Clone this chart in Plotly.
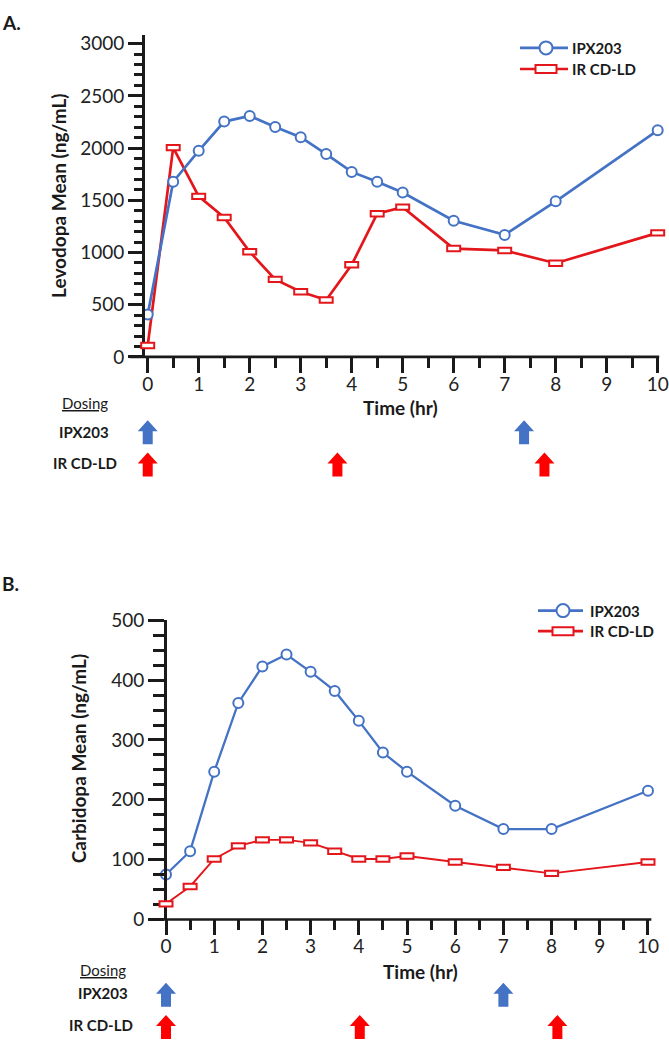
import plotly.graph_objects as go

W, H = 669, 1050

# ---------------- data ----------------
time_hr = [0, 0.5, 1, 1.5, 2, 2.5, 3, 3.5, 4, 4.5, 5, 6, 7, 8, 10]
levodopa_ipx203 = [406, 1678, 1974, 2254, 2308, 2202, 2105, 1943, 1772, 1678, 1575, 1304, 1169, 1491, 2170]
levodopa_ir = [110, 2005, 1538, 1335, 1007, 743, 624, 546, 883, 1372, 1435, 1038, 1020, 898, 1188]
carbidopa_ipx203 = [75, 114, 247, 362, 423, 443, 414, 382, 332, 279, 247, 190, 151, 151, 215]
carbidopa_ir = [26, 55, 101, 123, 133, 133, 128, 114, 101, 101, 106, 96, 87, 77, 96]

dose_a_ipx203 = [0, 7.38]
dose_a_ir = [0, 3.72, 7.78]
dose_b_ipx203 = [0, 7.0]
dose_b_ir = [0, 4.02, 8.12]

series_names = ["IPX203", "IR CD-LD"]

BLUE = "#4472C4"
RED = "#E3161B"
ARROW_RED = "#FF0000"
INK = "#1a1a1a"
FONT = "Lato"


def px(x):
    return x / W


def py(y):
    return 1 - y / H


fig = go.Figure()

# ---------------- traces ----------------
panels = [
    dict(xa="x", ya="y", ipx=levodopa_ipx203, ir=levodopa_ir, lw_b=2.7, lw_r=2.7),
    dict(xa="x2", ya="y2", ipx=carbidopa_ipx203, ir=carbidopa_ir, lw_b=2.3, lw_r=1.9),
]
for p in panels:
    fig.add_trace(go.Scatter(
        x=time_hr, y=p["ir"], mode="lines", name=series_names[1],
        line=dict(color=RED, width=p["lw_r"]), xaxis=p["xa"], yaxis=p["ya"],
        cliponaxis=False, showlegend=False))
    fig.add_trace(go.Scatter(
        x=time_hr, y=p["ipx"], mode="lines+markers", name=series_names[0],
        line=dict(color=BLUE, width=p["lw_b"]),
        marker=dict(symbol="circle", size=10, color="white", line=dict(color=BLUE, width=2)),
        xaxis=p["xa"], yaxis=p["ya"], cliponaxis=False, showlegend=False))

shapes = []
# red rectangle markers
for p in panels:
    for t, v in zip(time_hr, p["ir"]):
        shapes.append(dict(type="rect", xref=p["xa"], yref=p["ya"],
                           xsizemode="pixel", ysizemode="pixel",
                           xanchor=t, yanchor=v, x0=-6.5, x1=6.5, y0=-2.7, y1=2.7,
                           line=dict(color=RED, width=2), fillcolor="white", layer="above"))

# x axis lines (drawn as shapes so plot area can extend past 10 h for markers)
shapes.append(dict(type="line", xref="x", yref="y domain", x0=-0.357, x1=10.03, y0=0, y1=0,
                   line=dict(color=INK, width=2.7)))
shapes.append(dict(type="line", xref="x2", yref="y2 domain", x0=-0.353, x1=10.07, y0=0, y1=0,
                   line=dict(color=INK, width=2.5)))

# dosing arrows
ARROW_PATH = "M -5,0 L 5,0 L 5,13 L 10,13 L 0,24 L -10,13 L -5,13 Z"
arrow_rows = [
    ("x", dose_a_ipx203, 442, BLUE),
    ("x", dose_a_ir, 475, ARROW_RED),
    ("x2", dose_b_ipx203, 1017, BLUE),
    ("x2", dose_b_ir, 1050, ARROW_RED),
]
for xa, doses, ybot, col in arrow_rows:
    for d in doses:
        shapes.append(dict(type="path", xref=xa, yref="paper",
                           xsizemode="pixel", ysizemode="pixel",
                           xanchor=d, yanchor=py(ybot), path=ARROW_PATH,
                           fillcolor=col, line=dict(width=0)))

# custom legends
annotations = []
legend_specs = [
    # line x0, x1, marker cx, text x, row y blue, row y red
    (520, 568, 546, 570, 36.7, 58.3),
    (538, 583, 563, 588, 612, 633),
]
for lx0, lx1, cx, tx, yb, yr in legend_specs:
    shapes.append(dict(type="line", xref="paper", yref="paper", x0=px(lx0), x1=px(lx1),
                       y0=py(yb), y1=py(yb), line=dict(color=BLUE, width=2.7)))
    shapes.append(dict(type="circle", xref="paper", yref="paper", xsizemode="pixel", ysizemode="pixel",
                       xanchor=px(cx), yanchor=py(yb), x0=-6.5, x1=6.5, y0=-6.5, y1=6.5,
                       line=dict(color=BLUE, width=2), fillcolor="white"))
    shapes.append(dict(type="line", xref="paper", yref="paper", x0=px(lx0), x1=px(lx1),
                       y0=py(yr), y1=py(yr), line=dict(color=RED, width=2.7)))
    shapes.append(dict(type="rect", xref="paper", yref="paper", xsizemode="pixel", ysizemode="pixel",
                       xanchor=px(cx), yanchor=py(yr), x0=-10.5, x1=10.5, y0=-4, y1=4,
                       line=dict(color=RED, width=2), fillcolor="white"))
    for name, yy in zip(series_names, (yb, yr)):
        annotations.append(dict(text="<b>%s</b>" % name, xref="paper", yref="paper",
                                x=px(tx), y=py(yy), xanchor="left", yanchor="middle",
                                showarrow=False, font=dict(family=FONT, size=15, color=INK)))


def ann(text, x, y, size, xanchor="center", angle=0, bold=True):
    annotations.append(dict(text=("<b>%s</b>" % text) if bold else text,
                            xref="paper", yref="paper", x=px(x), y=py(y),
                            xanchor=xanchor, yanchor="middle", showarrow=False,
                            textangle=angle, font=dict(family=FONT, size=size, color=INK)))


ann("A.", 0, 11, 19, xanchor="left")
ann("B.", 0, 584, 19, xanchor="left")
ann("Levodopa Mean (ng/mL)", 59, 188, 19, angle=-90)
ann("Carbidopa Mean (ng/mL)", 78, 764, 19, angle=-90)
ann("Time (hr)", 400, 404, 19)
ann("Time (hr)", 420, 981, 19)
ann("<u>Dosing</u>", 84.6, 400, 15, bold=False)
ann("IPX203", 84, 429, 15)
ann("IR CD-LD", 84.6, 461, 15)
ann("<u>Dosing</u>", 103, 979, 15, bold=False)
ann("IPX203", 103, 1003, 15)
ann("IR CD-LD", 101, 1036, 15)

tickfont = dict(family=FONT, size=19, color="#222222")


def xaxis_cfg(left_px, rng, anchor):
    return dict(domain=[px(left_px), 1.0], range=rng, anchor=anchor, showline=False,
                showgrid=False, zeroline=False, tickmode="linear", tick0=0, dtick=1,
                ticks="outside", ticklen=15, tickwidth=2.5, tickcolor=INK, tickfont=tickfont,
                ticklabelstandoff=-5,
                minor=dict(ticks="outside", dtick=0.5, tick0=0, ticklen=10, tickwidth=2.5,
                           tickcolor=INK, showgrid=False))


def yaxis_cfg(dom, rng, pos_px, dtick, minor_dtick, ticklen, minor_len):
    return dict(domain=dom, range=rng, anchor="free", position=px(pos_px),
                showline=True, linecolor=INK, linewidth=2.7, showgrid=False, zeroline=False,
                tickmode="linear", tick0=0, dtick=dtick, ticks="outside", ticklen=ticklen,
                tickwidth=2.5, tickcolor=INK, tickfont=tickfont,
                minor=dict(ticks="outside", dtick=minor_dtick, tick0=0, ticklen=minor_len,
                           tickwidth=2.5, tickcolor=INK, showgrid=False))


fig.update_layout(
    width=W, height=H, margin=dict(l=0, r=0, t=0, b=0),
    paper_bgcolor="white", plot_bgcolor="white", showlegend=False,
    xaxis=xaxis_cfg(129.5, [-0.357, 10.222], "y"),
    yaxis=yaxis_cfg([py(352.7), py(23.3)], [0, 3085], 143, 500, 100, 14, 8),
    xaxis2=xaxis_cfg(149, [-0.353, 10.436], "y2"),
    yaxis2=yaxis_cfg([py(927.7), py(622)], [0, 500], 165, 100, 25, 16, 11),
    shapes=shapes, annotations=annotations,
)

fig.write_html("out.html")
